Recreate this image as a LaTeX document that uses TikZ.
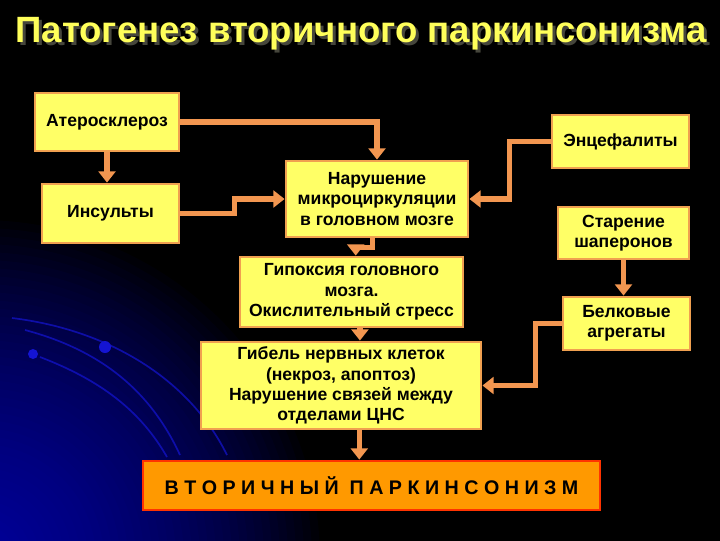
\documentclass[tikz,border=0pt]{standalone}
\usepackage{fontspec}
\setmainfont{Liberation Sans}
\usetikzlibrary{arrows.meta}
\definecolor{slideyellow}{RGB}{255,255,102}
\definecolor{slideedge}{RGB}{240,160,80}
\definecolor{slidearrow}{RGB}{242,150,80}
\definecolor{slideorange}{RGB}{255,153,0}
\definecolor{slidered}{RGB}{255,51,0}
\definecolor{slideblue}{RGB}{20,20,210}
\definecolor{titleyellow}{RGB}{255,255,90}
\definecolor{titleshade}{RGB}{70,70,60}

\begin{document}
\begin{tikzpicture}[x=0.025cm,y=-0.025cm,
    cause/.style={draw=slideedge,fill=slideyellow,line width=2pt,align=center,
      font=\fontsize{12.5}{14.5}\selectfont\bfseries,inner sep=2pt},
    outcome/.style={draw=slidered,fill=slideorange,line width=2pt,
      font=\fontsize{14}{16}\selectfont\bfseries,inner sep=2pt},
    link/.style={slidearrow,line width=3.8pt,
      -{Triangle[width=12pt,length=8pt]}},
    orbit/.style={slideblue,line width=1.2pt,opacity=.7}]
    % background
    \useasboundingbox (0,0) rectangle (720,540);
    \fill[black] (-5,-5) rectangle (725,545);
    \begin{scope}
      \clip (0,0) rectangle (720,540);
      \foreach \r in {340,332,...,12}
        \fill[slideblue,opacity=.035] (-20,560) circle (\r);
    \end{scope}
    \draw[orbit] (12,318) .. controls (110,330) and (190,380) .. (227,455);
    \draw[orbit] (25,330) .. controls (100,350) and (150,390) .. (180,455);
    \draw[orbit] (40,357) .. controls (100,380) and (140,410) .. (167,457);
    \fill[slideblue] (33,354) circle (5);
    \fill[slideblue] (105,347) circle (6);

    % title
    \node[text=titleshade,font=\fontsize{26}{30}\selectfont\bfseries]
      at (364,37) {Патогенез вторичного паркинсонизма};
    \node[text=titleyellow,font=\fontsize{26}{30}\selectfont\bfseries]
      (title) at (361,34) {Патогенез вторичного паркинсонизма};

    % boxes
    \node[cause,minimum width=3.6cm,minimum height=1.45cm] (ath) at (107,122)
      {Атеросклероз};
    \node[cause,minimum width=3.425cm,minimum height=1.475cm] (ins) at (110.5,213.5)
      {Инсульты};
    \node[cause,minimum width=4.55cm,minimum height=1.9cm] (nar) at (377,199)
      {Нарушение\\микроциркуляции\\в головном мозге};
    \node[cause,minimum width=3.425cm,minimum height=1.325cm] (enc) at (620.5,141.5)
      {Энцефалиты};
    \node[cause,minimum width=3.275cm,minimum height=1.3cm] (star) at (623.5,233)
      {Старение\\шаперонов};
    \node[cause,minimum width=3.175cm,minimum height=1.325cm] (bel) at (626.5,323.5)
      {Белковые\\агрегаты};
    \node[cause,minimum width=5.575cm,minimum height=1.75cm] (gip) at (351.5,292)
      {Гипоксия головного\\мозга.\\Окислительный стресс};
    \node[cause,minimum width=7cm,minimum height=2.175cm] (gib) at (341,385.5)
      {Гибель нервных клеток\\(некроз, апоптоз)\\Нарушение связей между\\отделами ЦНС};
    \node[outcome,minimum width=11.425cm,minimum height=1.225cm] (vp) at (371.5,485.5)
      {В\ Т\ О\ Р\ И\ Ч\ Н\ Ы\ Й\ \ П\ А\ Р\ К\ И\ Н\ С\ О\ Н\ И\ З\ М};

    % connectors
    \draw[link] (ath.east) -| (nar.north);
    \draw[link] (ath.south) -- (ath.south |- ins.north);
    \draw[link] (ins.east) -- ++(54,0) |- (nar.west);
    \draw[link] (enc.west) -- ++(-41,0) |- (nar.east);
    \draw[link] ([xshift=-3pt]nar.south) -- ++(0,9) -| ([xshift=3pt]gip.north);
    \draw[link] ([xshift=6pt]gip.south) -- ([xshift=6pt]gip.south |- gib.north);
    \draw[link] ([xshift=13pt]gib.south) -- ([xshift=13pt]gib.south |- vp.north);
    \draw[link] (star.south) -- (star.south |- bel.north);
    \draw[link] (bel.west) -- ++(-26,0) |- (gib.east);
  \end{tikzpicture}
\end{document}
